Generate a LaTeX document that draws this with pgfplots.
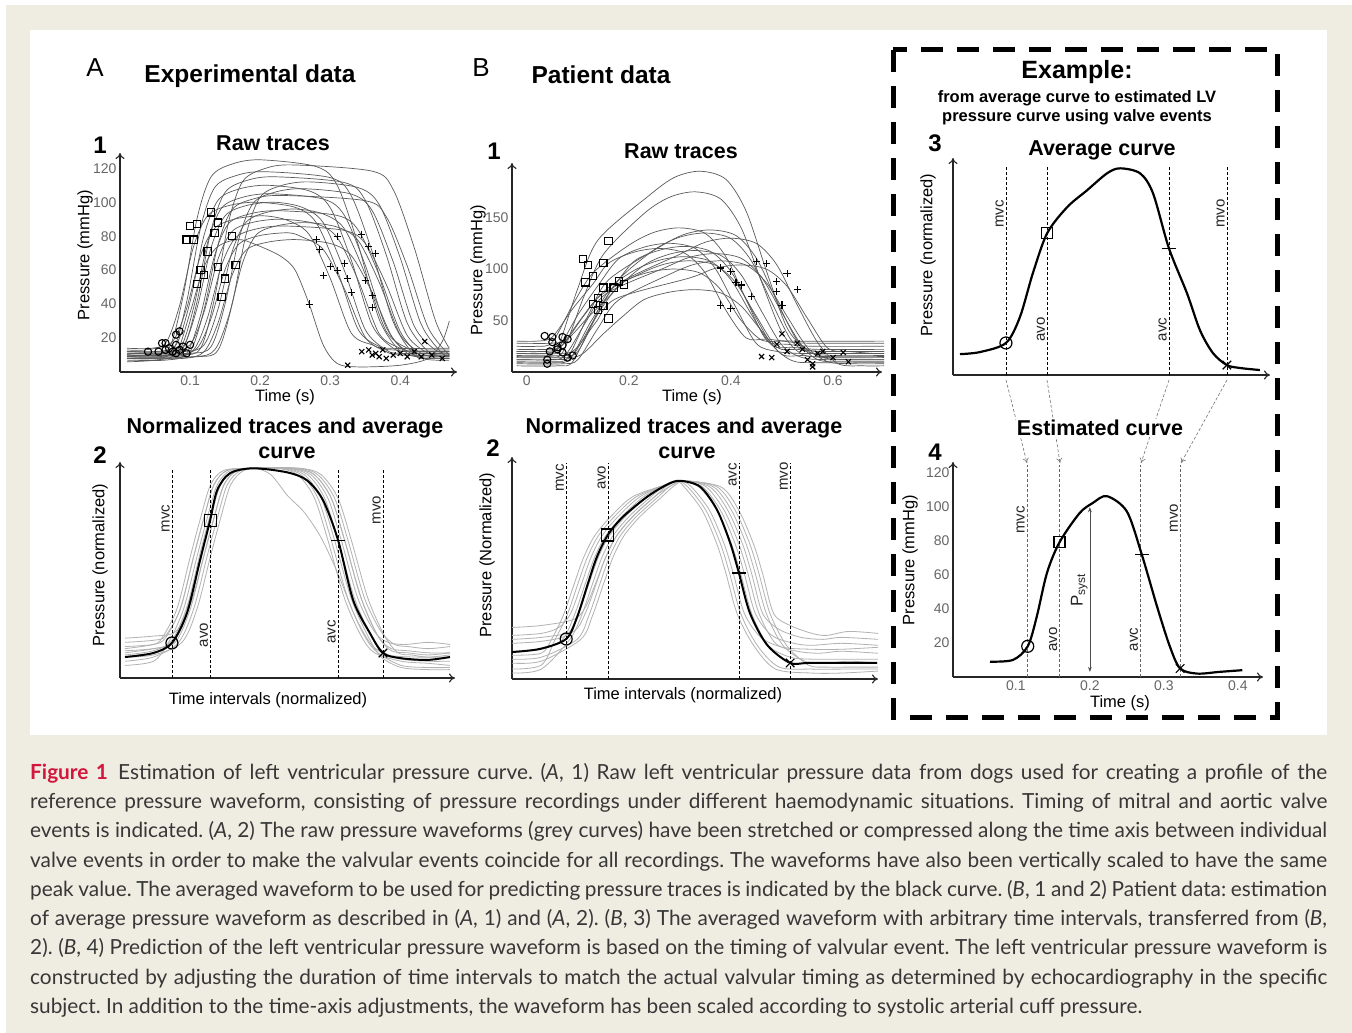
\documentclass[border=0pt]{standalone}
\usepackage{pgfplots}
\pgfplotsset{compat=1.18}
\usetikzlibrary{arrows.meta}
\usepackage{fontspec}
\setmainfont{Liberation Sans}
\newfontfamily\capfont{Lato}

\definecolor{bgbeige}{RGB}{239,236,226}
\definecolor{figred}{RGB}{210,22,60}
\definecolor{captxt}{RGB}{55,55,55}
\definecolor{rawgray}{RGB}{90,90,90}
\definecolor{normgray}{RGB}{178,178,178}

\tikzset{evlabel/.style={rotate=90, anchor=south, font=\fontsize{15}{15}\selectfont, text=black!85, inner sep=2pt}}

\pgfplotsset{
  panel/.style={
    scale only axis, anchor=south west, clip=false,
    axis lines=left,
    axis line style={line width=1.1pt, black!85, -{To[length=6pt,width=9pt]}},
    major tick length=0pt,
    tick label style={font=\fontsize{14}{14}\selectfont, text=black!60},
    /pgf/number format/assume math mode=true,
  },
  raw/.style={rawgray, line width=0.7pt, smooth, tension=0.5},
  norm/.style={normgray, line width=0.8pt, smooth, tension=0.5},
  avg/.style={black, line width=2pt, smooth, tension=0.5},
  event/.style={black, densely dashed, line width=0.6pt},
  rmark/.style={only marks, black, line width=1.1pt, mark size=3.6pt},
  bmark/.style={only marks, black, line width=1.2pt, mark size=6pt},
}

\begin{document}
\begin{tikzpicture}
% --- background ---
\begin{scope}[x=1pt,y=1pt]
  \fill[white] (0,0) rectangle (1352,-1033);
  \fill[bgbeige] (6,-5) rectangle (1352,-1033);
  \fill[white] (30,-30) rectangle (1327,-735);
\end{scope}

% --- A1 raw traces ---
\begin{axis}[panel, at={(120pt,-372pt)}, width=337pt, height=219pt,
  xmin=0, xmax=0.481, ymin=0, ymax=129,
  xtick={0.1,0.2,0.3,0.4}, ytick={20,40,60,80,100,120}]
\addplot[raw] coordinates {(0.01,10)(0.04,10)(0.07,14)(0.09,44.5)(0.11,90.5)(0.13,115)(0.16,122.5)(0.20,125)(0.28,121)(0.31,110)(0.34,75)(0.37,31)(0.40,12)(0.42,10)(0.47,10)};
\addplot[raw] coordinates {(0.01,8)(0.045,8)(0.075,12)(0.095,41)(0.115,85)(0.135,108.6)(0.165,115.6)(0.205,118)(0.30,114.5)(0.33,103.8)(0.36,70.8)(0.39,29.5)(0.42,10)(0.44,8)(0.47,8)};
\addplot[raw] coordinates {(0.01,12)(0.05,12)(0.08,16)(0.10,41.4)(0.12,80.6)(0.14,101.2)(0.17,107.8)(0.21,110)(0.27,106.7)(0.30,96.8)(0.33,66)(0.36,27.5)(0.39,14)(0.41,12)(0.47,12)};
\addplot[raw] coordinates {(0.01,9)(0.055,9)(0.085,13)(0.105,37.8)(0.125,76.2)(0.145,96.6)(0.175,102.9)(0.215,105)(0.29,101.9)(0.32,92.4)(0.35,63)(0.38,26.3)(0.41,11)(0.43,9)(0.47,9)};
\addplot[raw] coordinates {(0.01,11)(0.06,11)(0.09,15)(0.11,37.7)(0.13,73.3)(0.15,92)(0.18,98)(0.22,100)(0.26,97)(0.29,88)(0.32,60)(0.35,25)(0.38,13)(0.40,11)(0.47,11)};
\addplot[raw] coordinates {(0.01,7)(0.065,7)(0.095,11)(0.115,33.4)(0.135,68.6)(0.155,87.4)(0.185,93.1)(0.225,95)(0.31,92.2)(0.34,83.6)(0.37,57)(0.40,23.8)(0.43,9)(0.45,7)(0.47,7)};
\addplot[raw] coordinates {(0.01,12)(0.07,12)(0.10,16)(0.12,35.4)(0.14,66.6)(0.16,82.8)(0.19,88.2)(0.23,90)(0.28,87.3)(0.31,79.2)(0.34,54)(0.37,22.5)(0.40,14)(0.42,12)(0.47,12)};
\addplot[raw] coordinates {(0.01,9)(0.075,9)(0.105,13)(0.125,32.1)(0.145,62.9)(0.165,79.1)(0.195,84.3)(0.235,86)(0.32,83.4)(0.35,75.7)(0.38,51.6)(0.41,21.5)(0.44,11)(0.46,9)(0.47,9)};
\addplot[raw] coordinates {(0.01,10)(0.08,10)(0.11,14)(0.13,31.6)(0.15,60.4)(0.17,75.4)(0.20,80.4)(0.24,82)(0.26,79.5)(0.29,72.2)(0.32,49.2)(0.35,20.5)(0.38,12)(0.40,10)(0.47,10)};
\addplot[raw] coordinates {(0.01,8)(0.09,8)(0.12,12)(0.14,29)(0.16,57)(0.18,71.8)(0.21,76.4)(0.25,78)(0.30,75.7)(0.33,68.6)(0.36,46.8)(0.39,19.5)(0.42,10)(0.44,8)(0.47,8)};
\addplot[raw] coordinates {(0.01,11)(0.10,11)(0.13,15)(0.15,40.1)(0.17,78.9)(0.19,99.4)(0.22,105.8)(0.26,108)(0.33,104.8)(0.36,95)(0.39,64.8)(0.42,27)(0.45,13)(0.47,11)};
\addplot[raw] coordinates {(0.01,9)(0.11,9)(0.14,13)(0.16,39.9)(0.18,81.1)(0.20,103)(0.23,109.8)(0.27,112)(0.34,108.6)(0.37,98.6)(0.40,67.2)(0.43,28)(0.46,11)(0.47,10)};
\addplot[raw] coordinates {(0.01,6)(0.05,7)(0.08,11)(0.10,35)(0.12,62)(0.14,74)(0.17,78)(0.20,74)(0.23,68)(0.25,60)(0.27,40)(0.29,16)(0.31,5)(0.34,3)(0.40,4)(0.44,8)(0.46,18)(0.47,30)};
\addplot[raw] coordinates {(0.01,13)(0.035,13)(0.065,17)(0.085,39.1)(0.105,73.9)(0.125,92)(0.155,98)(0.195,100)(0.25,97)(0.28,88)(0.31,60)(0.34,25)(0.37,15)(0.39,13)(0.47,13)};
\addplot[raw] coordinates {(0.01,10)(0.085,10)(0.115,14)(0.135,43.6)(0.155,88.4)(0.175,112.2)(0.205,119.6)(0.245,122)(0.36,118.3)(0.39,107.4)(0.42,73.2)(0.45,30.5)(0.47,14)};
\addplot[raw] coordinates {(0.01,14)(0.045,14)(0.075,18)(0.095,37.4)(0.115,68.6)(0.135,84.6)(0.165,90.2)(0.205,92)(0.24,89.2)(0.27,81)(0.30,55.2)(0.33,23)(0.36,16)(0.38,14)(0.47,14)};
\addplot[raw] coordinates {(0.01,10)(0.06,10)(0.09,14)(0.11,41.5)(0.13,83.5)(0.15,105.8)(0.18,112.7)(0.22,115)(0.32,111.6)(0.35,101.2)(0.38,69)(0.41,28.8)(0.44,12)(0.46,10)(0.47,10)};
\addplot[raw] coordinates {(0.01,8)(0.07,8)(0.10,12)(0.12,36.8)(0.14,75.2)(0.16,95.7)(0.19,101.9)(0.23,104)(0.35,100.9)(0.38,91.5)(0.41,62.4)(0.44,26)(0.47,10)};
\addplot[raw] coordinates {(0.01,12)(0.09,12)(0.12,16)(0.14,37.2)(0.16,70.8)(0.18,88.3)(0.21,94.1)(0.25,96)(0.29,93.1)(0.32,84.5)(0.35,57.6)(0.38,24)(0.41,14)(0.43,12)(0.47,12)};
\addplot[raw] coordinates {(0.01,9)(0.105,9)(0.135,13)(0.155,32.7)(0.175,64.3)(0.195,81)(0.225,86.2)(0.265,88)(0.31,85.4)(0.34,77.4)(0.37,52.8)(0.40,22)(0.43,11)(0.45,9)(0.47,9)};
\addplot[rmark, mark=o] coordinates {(0.07,14)(0.075,12)(0.08,16)(0.085,13)(0.09,15)(0.095,11)(0.10,16)(0.065,13)(0.06,17)(0.055,12)(0.08,22)(0.08,11)(0.065,17)(0.04,12)(0.085,24)};
\addplot[rmark, mark=square] coordinates {(0.10,86)(0.105,78)(0.11,87)(0.115,60)(0.12,57)(0.125,71)(0.13,94)(0.135,82)(0.14,88)(0.145,44)(0.15,55)(0.16,80)(0.165,63)(0.11,52)(0.095,78)(0.14,62)};
\addplot[rmark, mark=+] coordinates {(0.28,78)(0.285,72)(0.29,57)(0.30,62)(0.31,60)(0.31,80)(0.32,64)(0.325,55)(0.33,47)(0.345,81)(0.35,54)(0.355,74)(0.36,45)(0.365,70)(0.36,38)(0.27,40)};
\addplot[rmark, mark=x] coordinates {(0.345,12)(0.36,10)(0.355,13)(0.37,9)(0.375,13)(0.38,8)(0.39,10)(0.40,11)(0.41,9)(0.42,12)(0.43,9)(0.435,18)(0.445,10)(0.46,8)(0.325,4)(0.365,11)};
\end{axis}

% --- B1 raw traces ---
\begin{axis}[panel, at={(512pt,-372pt)}, width=370pt, height=209pt,
  xmin=-0.029, xmax=0.696, ymin=0, ymax=203,
  xtick={0,0.2,0.4,0.6}, ytick={50,100,150}]
\addplot[raw] coordinates {(-0.02,20)(0.03,20)(0.06,24)(0.10,81.3)(0.14,128.5)(0.24,171.6)(0.29,189.2)(0.34,195)(0.39,187.2)(0.43,156)(0.47,97.5)(0.51,42.9)(0.55,22)(0.60,20)(0.70,20)};
\addplot[raw] coordinates {(-0.02,15)(0.04,15)(0.07,19)(0.11,71)(0.15,114.2)(0.23,154)(0.28,169.8)(0.33,175)(0.38,168)(0.42,140)(0.46,87.5)(0.50,38.5)(0.54,17)(0.59,15)(0.70,15)};
\addplot[raw] coordinates {(-0.02,25)(0.02,25)(0.05,29)(0.09,65.3)(0.13,96.3)(0.20,123.2)(0.25,135.8)(0.30,140)(0.35,134.4)(0.39,112)(0.43,70)(0.47,30.8)(0.51,27)(0.56,25)(0.70,25)};
\addplot[raw] coordinates {(-0.02,10)(0.05,10)(0.08,14)(0.12,54.8)(0.16,89.4)(0.26,121.4)(0.31,133.9)(0.36,138)(0.41,132.5)(0.45,110.4)(0.49,69)(0.53,30.4)(0.57,12)(0.62,10)(0.70,10)};
\addplot[raw] coordinates {(-0.02,18)(0.03,18)(0.06,22)(0.10,55.5)(0.14,84.3)(0.18,110)(0.23,121.3)(0.28,125)(0.33,120)(0.37,100)(0.41,62.5)(0.45,27.5)(0.49,20)(0.54,18)(0.70,18)};
\addplot[raw] coordinates {(-0.02,12)(0.06,12)(0.09,16)(0.13,49.1)(0.17,77.7)(0.23,103.8)(0.28,114.5)(0.33,118)(0.38,113.3)(0.42,94.4)(0.46,59)(0.50,26)(0.54,14)(0.59,12)(0.70,12)};
\addplot[raw] coordinates {(-0.02,22)(0.04,22)(0.07,26)(0.11,53.5)(0.15,77.8)(0.21,98.6)(0.26,108.6)(0.31,112)(0.36,107.5)(0.40,89.6)(0.44,56)(0.48,26)(0.52,24)(0.57,22)(0.70,22)};
\addplot[raw] coordinates {(-0.02,8)(0.07,8)(0.10,12)(0.14,43)(0.18,70)(0.28,95)(0.33,104.8)(0.38,108)(0.43,103.7)(0.47,86.4)(0.51,54)(0.55,23.8)(0.59,10)(0.64,8)(0.70,8)};
\addplot[raw] coordinates {(-0.02,28)(0.05,28)(0.08,32)(0.12,53.2)(0.16,72.6)(0.19,88)(0.24,97)(0.29,100)(0.34,96)(0.38,80)(0.42,50)(0.46,31)(0.50,30)(0.55,28)(0.70,28)};
\addplot[raw] coordinates {(-0.02,14)(0.08,14)(0.11,18)(0.15,37.1)(0.19,54.9)(0.23,70.4)(0.28,77.6)(0.33,80)(0.38,76.8)(0.42,64)(0.46,40)(0.50,17)(0.54,16)(0.59,14)(0.70,14)};
\addplot[raw] coordinates {(-0.02,6)(0.06,6)(0.09,10)(0.13,49.4)(0.17,82.9)(0.30,114.4)(0.35,126.1)(0.40,130)(0.45,124.8)(0.49,104)(0.53,65)(0.57,28.6)(0.61,8)(0.66,6)(0.70,6)};
\addplot[raw] coordinates {(-0.02,30)(0.02,30)(0.05,34)(0.09,61.5)(0.13,85.8)(0.16,105.6)(0.21,116.4)(0.26,120)(0.31,115.2)(0.35,96)(0.39,60)(0.43,33)(0.47,32)(0.52,30)(0.70,30)};
\addplot[raw] coordinates {(-0.02,16)(0.07,16)(0.10,20)(0.14,57.7)(0.18,89.8)(0.25,118.8)(0.30,131)(0.35,135)(0.40,129.6)(0.44,108)(0.48,67.5)(0.52,29.7)(0.56,18)(0.61,16)(0.70,16)};
\addplot[raw] coordinates {(-0.02,20)(0.035,20)(0.065,24)(0.105,50.8)(0.145,74.6)(0.22,95)(0.27,104.8)(0.32,108)(0.37,103.7)(0.41,86.4)(0.45,54)(0.49,24)(0.53,22)(0.58,20)(0.70,20)};
\addplot[raw] coordinates {(-0.02,12)(0.045,12)(0.075,16)(0.115,48)(0.155,75.9)(0.27,101.2)(0.32,111.6)(0.37,115)(0.42,110.4)(0.46,92)(0.50,57.5)(0.54,25.3)(0.58,14)(0.63,12)(0.70,12)};
\addplot[raw] coordinates {(-0.02,9)(0.055,9)(0.085,13)(0.125,48.6)(0.165,79.1)(0.21,107.4)(0.26,118.3)(0.31,122)(0.36,117.1)(0.40,97.6)(0.44,61)(0.48,26.8)(0.52,11)(0.57,9)(0.70,9)};
\addplot[raw] coordinates {(-0.02,18)(0.065,18)(0.095,22)(0.135,48.1)(0.175,71.3)(0.32,91.5)(0.37,100.9)(0.42,104)(0.47,99.8)(0.51,83.2)(0.55,52)(0.59,23)(0.63,20)(0.68,18)(0.70,18)};
\addplot[rmark, mark=o] coordinates {(0.06,24)(0.07,19)(0.05,29)(0.08,14)(0.06,22)(0.09,16)(0.07,26)(0.04,12)(0.08,32)(0.035,35)(0.04,8)(0.05,34)(0.045,20)(0.07,34)};
\addplot[rmark, mark=square] coordinates {(0.11,110)(0.13,93)(0.115,87)(0.14,72)(0.12,104)(0.15,64)(0.13,66)(0.16,52)(0.14,60)(0.17,82)(0.15,106)(0.16,127)(0.18,88)(0.19,85)(0.15,82)};
\addplot[rmark, mark=+] coordinates {(0.38,101)(0.40,98)(0.41,87)(0.42,84)(0.38,65)(0.45,107)(0.47,105)(0.49,88)(0.49,78)(0.51,96)(0.53,80)(0.40,62)(0.44,73)(0.42,85)(0.50,65)};
\addplot[rmark, mark=x] coordinates {(0.46,15)(0.48,14)(0.49,27)(0.50,37)(0.51,20)(0.53,28)(0.54,22)(0.55,12)(0.56,8)(0.57,18)(0.58,20)(0.60,14)(0.62,19)(0.63,10)(0.56,5)};
\end{axis}

% --- A2 normalized ---
\begin{axis}[panel, at={(120pt,-678pt)}, width=335pt, height=216pt,
  xmin=0, xmax=1, ymin=0, ymax=1.03, xtick=\empty, ytick=\empty]
\addplot[norm] coordinates {(0.015,0.12)(0.10,0.14)(0.155,0.17)(0.20,0.33)(0.24,0.58)(0.27,0.76)(0.30,0.92)(0.34,0.99)(0.40,1.0)(0.50,1.0)(0.56,0.97)(0.61,0.86)(0.65,0.66)(0.70,0.38)(0.75,0.2)(0.79,0.12)(0.84,0.09)(0.92,0.08)(0.985,0.08)};
\addplot[norm] coordinates {(0.015,0.17)(0.10,0.18)(0.135,0.2)(0.18,0.33)(0.22,0.58)(0.25,0.76)(0.28,0.92)(0.32,0.99)(0.40,1.0)(0.52,1.0)(0.58,0.97)(0.63,0.86)(0.67,0.66)(0.72,0.38)(0.77,0.2)(0.81,0.14)(0.86,0.13)(0.92,0.12)(0.985,0.12)};
\addplot[norm] coordinates {(0.015,0.08)(0.10,0.10)(0.175,0.17)(0.22,0.33)(0.26,0.58)(0.29,0.76)(0.32,0.92)(0.36,0.99)(0.42,1.0)(0.48,1.0)(0.54,0.97)(0.59,0.86)(0.63,0.66)(0.68,0.38)(0.73,0.2)(0.77,0.12)(0.84,0.06)(0.92,0.05)(0.985,0.05)};
\addplot[norm] coordinates {(0.015,0.14)(0.10,0.16)(0.125,0.19)(0.17,0.33)(0.21,0.58)(0.24,0.76)(0.27,0.92)(0.31,0.99)(0.40,1.0)(0.53,1.0)(0.59,0.97)(0.64,0.86)(0.68,0.66)(0.73,0.38)(0.78,0.22)(0.82,0.16)(0.86,0.15)(0.92,0.14)(0.985,0.15)};
\addplot[norm] coordinates {(0.015,0.19)(0.10,0.2)(0.165,0.22)(0.21,0.35)(0.25,0.58)(0.28,0.76)(0.31,0.92)(0.35,0.99)(0.42,1.0)(0.54,1.0)(0.60,0.97)(0.65,0.86)(0.69,0.66)(0.74,0.38)(0.79,0.2)(0.83,0.12)(0.87,0.11)(0.92,0.10)(0.985,0.11)};
\addplot[norm] coordinates {(0.015,0.06)(0.10,0.08)(0.145,0.17)(0.19,0.33)(0.23,0.58)(0.26,0.76)(0.29,0.92)(0.33,0.99)(0.40,1.0)(0.47,1.0)(0.53,0.97)(0.58,0.86)(0.62,0.66)(0.67,0.38)(0.72,0.2)(0.76,0.12)(0.84,0.08)(0.92,0.07)(0.985,0.06)};
\addplot[norm] coordinates {(0.015,0.10)(0.10,0.11)(0.185,0.17)(0.23,0.33)(0.27,0.58)(0.30,0.76)(0.33,0.92)(0.37,0.99)(0.43,1.0)(0.51,1.0)(0.57,0.97)(0.62,0.86)(0.66,0.66)(0.71,0.38)(0.76,0.22)(0.80,0.17)(0.85,0.16)(0.92,0.17)(0.985,0.16)};
\addplot[norm] coordinates {(0.015,0.15)(0.10,0.16)(0.135,0.19)(0.18,0.33)(0.22,0.58)(0.25,0.76)(0.28,0.92)(0.32,0.99)(0.40,1.0)(0.49,1.0)(0.55,0.97)(0.60,0.86)(0.64,0.66)(0.69,0.38)(0.74,0.2)(0.78,0.1)(0.84,0.05)(0.92,0.04)(0.985,0.04)};
\addplot[norm] coordinates {(0.015,0.13)(0.10,0.14)(0.165,0.17)(0.21,0.33)(0.25,0.58)(0.28,0.76)(0.31,0.92)(0.35,0.99)(0.41,1.0)(0.52,1.0)(0.58,0.97)(0.63,0.86)(0.67,0.66)(0.72,0.38)(0.77,0.2)(0.81,0.13)(0.86,0.12)(0.92,0.11)(0.985,0.12)};
\addplot[norm] coordinates {(0.015,0.11)(0.10,0.13)(0.155,0.18)(0.20,0.34)(0.24,0.6)(0.27,0.78)(0.30,0.93)(0.34,0.99)(0.40,1.0)(0.45,0.97)(0.50,0.87)(0.55,0.79)(0.60,0.67)(0.65,0.5)(0.70,0.3)(0.75,0.16)(0.80,0.11)(0.88,0.1)(0.985,0.1)};
\addplot[event] coordinates {(0.155,0) (0.155,1.0)};
\addplot[event] coordinates {(0.269,0) (0.269,1.0)};
\addplot[event] coordinates {(0.651,0) (0.651,1.0)};
\addplot[event] coordinates {(0.785,0) (0.785,1.0)};
\addplot[avg] coordinates {(0.015,0.10)(0.099,0.119)(0.155,0.167)(0.2,0.31)(0.239,0.562)(0.269,0.752)(0.29,0.895)(0.328,0.976)(0.397,1.0)(0.498,0.981)(0.558,0.943)(0.606,0.848)(0.651,0.657)(0.696,0.371)(0.746,0.214)(0.785,0.119)(0.836,0.095)(0.916,0.086)(0.985,0.10)};
\addplot[bmark, mark=o] coordinates {(0.155,0.167)};
\addplot[bmark, mark=square] coordinates {(0.269,0.752)};
\addplot[bmark, mark=-, mark size=7pt] coordinates {(0.651,0.657)};
\addplot[bmark, mark=x] coordinates {(0.785,0.119)};
\node[evlabel] at (axis cs:0.155,0.76) {mvc};
\node[evlabel] at (axis cs:0.269,0.205) {avo};
\node[evlabel] at (axis cs:0.651,0.22) {avc};
\node[evlabel] at (axis cs:0.785,0.80) {mvo};
\end{axis}

% --- B2 normalized ---
\begin{axis}[panel, at={(512pt,-679pt)}, width=366pt, height=222pt,
  xmin=0, xmax=1, ymin=0, ymax=1.12, xtick=\empty, ytick=\empty]
\addplot[norm] coordinates {(0,0.26)(0.08,0.27)(0.168,0.30)(0.20,0.36)(0.23,0.49)(0.255,0.61)(0.285,0.72)(0.33,0.82)(0.39,0.92)(0.42,0.97)(0.46,1.0)(0.54,0.97)(0.59,0.85)(0.63,0.68)(0.655,0.53)(0.685,0.33)(0.73,0.25)(0.79,0.21)(0.85,0.20)(0.9,0.21)(1.0,0.20)};
\addplot[norm] coordinates {(0,0.22)(0.08,0.23)(0.128,0.26)(0.16,0.33)(0.19,0.48)(0.215,0.61)(0.245,0.72)(0.29,0.82)(0.35,0.92)(0.42,0.98)(0.46,1.0)(0.49,0.97)(0.54,0.85)(0.58,0.68)(0.605,0.53)(0.635,0.33)(0.68,0.21)(0.74,0.16)(0.82,0.15)(0.9,0.15)(1.0,0.16)};
\addplot[norm] coordinates {(0,0.10)(0.08,0.11)(0.178,0.2)(0.21,0.32)(0.24,0.48)(0.265,0.61)(0.295,0.72)(0.34,0.82)(0.40,0.92)(0.43,0.97)(0.47,1.0)(0.56,0.97)(0.61,0.85)(0.65,0.68)(0.675,0.53)(0.705,0.33)(0.75,0.17)(0.81,0.07)(0.86,0.06)(0.92,0.06)(1.0,0.06)};
\addplot[norm] coordinates {(0,0.05)(0.08,0.07)(0.118,0.2)(0.15,0.32)(0.18,0.48)(0.205,0.61)(0.235,0.72)(0.28,0.82)(0.34,0.92)(0.42,0.98)(0.46,1.0)(0.51,0.97)(0.56,0.85)(0.60,0.68)(0.625,0.53)(0.655,0.33)(0.70,0.17)(0.76,0.11)(0.82,0.10)(0.9,0.10)(1.0,0.10)};
\addplot[norm] coordinates {(0,0.18)(0.08,0.19)(0.148,0.22)(0.18,0.32)(0.21,0.48)(0.235,0.61)(0.265,0.72)(0.31,0.82)(0.37,0.92)(0.42,0.98)(0.45,1.0)(0.47,0.97)(0.52,0.85)(0.56,0.68)(0.585,0.53)(0.615,0.33)(0.66,0.17)(0.72,0.05)(0.82,0.03)(0.9,0.03)(1.0,0.04)};
\addplot[norm] coordinates {(0,0.08)(0.08,0.09)(0.188,0.2)(0.22,0.32)(0.25,0.48)(0.275,0.61)(0.305,0.72)(0.35,0.82)(0.41,0.92)(0.44,0.97)(0.47,1.0)(0.53,0.97)(0.58,0.85)(0.62,0.68)(0.645,0.53)(0.675,0.33)(0.72,0.18)(0.78,0.14)(0.84,0.13)(0.9,0.14)(1.0,0.13)};
\addplot[norm] coordinates {(0,0.14)(0.08,0.15)(0.138,0.2)(0.17,0.32)(0.20,0.48)(0.225,0.61)(0.255,0.72)(0.30,0.82)(0.36,0.92)(0.42,0.98)(0.46,1.0)(0.57,0.97)(0.62,0.85)(0.66,0.68)(0.685,0.53)(0.715,0.33)(0.76,0.27)(0.82,0.23)(0.86,0.22)(0.92,0.24)(1.0,0.23)};
\addplot[norm] coordinates {(0,0.03)(0.08,0.05)(0.158,0.2)(0.19,0.32)(0.22,0.48)(0.245,0.61)(0.275,0.72)(0.32,0.82)(0.38,0.92)(0.42,0.98)(0.45,1.0)(0.48,0.97)(0.53,0.85)(0.57,0.68)(0.595,0.53)(0.625,0.33)(0.67,0.17)(0.73,0.06)(0.82,0.05)(0.9,0.05)(1.0,0.05)};
\addplot[norm] coordinates {(0,0.12)(0.08,0.13)(0.108,0.2)(0.14,0.32)(0.17,0.48)(0.195,0.61)(0.225,0.72)(0.27,0.82)(0.33,0.92)(0.42,0.98)(0.46,1.0)(0.52,0.97)(0.57,0.85)(0.61,0.68)(0.635,0.53)(0.665,0.33)(0.71,0.22)(0.77,0.18)(0.82,0.17)(0.9,0.18)(1.0,0.17)};
\addplot[norm] coordinates {(0,0.20)(0.08,0.21)(0.168,0.24)(0.20,0.33)(0.23,0.48)(0.255,0.61)(0.285,0.72)(0.33,0.82)(0.39,0.92)(0.43,0.97)(0.47,1.0)(0.55,0.97)(0.60,0.85)(0.64,0.68)(0.665,0.53)(0.695,0.33)(0.74,0.17)(0.80,0.09)(0.86,0.08)(0.92,0.09)(1.0,0.08)};
\addplot[event] coordinates {(0.148,0) (0.148,1.09)};
\addplot[event] coordinates {(0.262,0) (0.262,1.09)};
\addplot[event] coordinates {(0.620,0) (0.620,1.09)};
\addplot[event] coordinates {(0.760,0) (0.760,1.09)};
\addplot[avg] coordinates {(0,0.136)(0.077,0.152)(0.148,0.202)(0.178,0.313)(0.208,0.485)(0.232,0.616)(0.262,0.727)(0.303,0.818)(0.369,0.919)(0.423,0.98)(0.459,1.0)(0.514,0.970)(0.560,0.854)(0.596,0.687)(0.620,0.535)(0.650,0.333)(0.697,0.172)(0.760,0.081)(0.814,0.081)(0.997,0.081)};
\addplot[bmark, mark=o] coordinates {(0.148,0.202)};
\addplot[bmark, mark=square] coordinates {(0.262,0.727)};
\addplot[bmark, mark=-, mark size=7pt] coordinates {(0.620,0.535)};
\addplot[bmark, mark=x] coordinates {(0.760,0.081)};
\node[evlabel] at (axis cs:0.148,1.015) {mvc};
\node[evlabel] at (axis cs:0.262,1.015) {avo};
\node[evlabel] at (axis cs:0.620,1.03) {avc};
\node[evlabel] at (axis cs:0.760,1.02) {mvo};
\end{axis}

% --- 3 average curve ---
\begin{axis}[panel, at={(953pt,-375pt)}, width=317pt, height=217pt,
  xmin=0, xmax=1, ymin=0, ymax=1.05, xtick=\empty, ytick=\empty]
\addplot[event] coordinates {(0.167,0) (0.167,1.01)};
\addplot[event] coordinates {(0.297,0) (0.297,1.01)};
\addplot[event] coordinates {(0.681,0) (0.681,1.01)};
\addplot[event] coordinates {(0.864,0) (0.864,1.01)};
\addplot[avg, line width=2.2pt] coordinates {(0.022,0.101)(0.085,0.111)(0.167,0.155)(0.211,0.280)(0.252,0.493)(0.297,0.686)(0.360,0.812)(0.423,0.894)(0.486,0.976)(0.527,1.0)(0.590,0.976)(0.631,0.879)(0.681,0.614)(0.738,0.396)(0.779,0.217)(0.820,0.106)(0.864,0.048)(0.905,0.034)(0.968,0.024)};
\addplot[bmark, mark=o] coordinates {(0.167,0.155)};
\addplot[bmark, mark=square, mark size=5.5pt] coordinates {(0.297,0.686)};
\addplot[bmark, mark=-, mark size=7pt] coordinates {(0.681,0.614)};
\addplot[bmark, mark=x] coordinates {(0.864,0.048)};
\node[evlabel] at (axis cs:0.167,0.78) {mvc};
\node[evlabel] at (axis cs:0.297,0.22) {avo};
\node[evlabel] at (axis cs:0.681,0.22) {avc};
\node[evlabel] at (axis cs:0.864,0.78) {mvo};
\end{axis}

% --- 4 estimated curve ---
\begin{axis}[panel, at={(953pt,-677pt)}, width=310pt, height=215pt,
  xmin=0.015, xmax=0.434, ymin=0, ymax=126,
  xtick={0.1,0.2,0.3,0.4}, ytick={20,40,60,80,100,120}]
\addplot[event, black!60] coordinates {(0.115,0) (0.115,124)};
\addplot[event, black!60] coordinates {(0.159,0) (0.159,124)};
\addplot[event, black!60] coordinates {(0.268,0) (0.268,124)};
\addplot[event, black!60] coordinates {(0.322,0) (0.322,124)};
\addplot[black!70, line width=0.7pt, {Stealth[length=5pt]}-{Stealth[length=5pt]}] coordinates {(0.2,3) (0.2,99.5)};
\addplot[avg, line width=2.2pt] coordinates {(0.065,9)(0.096,10)(0.116,18)(0.128,35)(0.142,61)(0.159,79)(0.186,96)(0.204,102)(0.223,106)(0.250,97)(0.270,72)(0.291,41)(0.308,18)(0.322,5)(0.345,2)(0.375,3)(0.406,4)};
\addplot[bmark, mark=o] coordinates {(0.116,18)};
\addplot[bmark, mark=square, mark size=5.5pt] coordinates {(0.159,79)};
\addplot[bmark, mark=-, mark size=7pt] coordinates {(0.270,72)};
\addplot[bmark, mark=x] coordinates {(0.322,5)};
\node[evlabel] at (axis cs:0.115,92) {mvc};
\node[evlabel] at (axis cs:0.159,22) {avo};
\node[evlabel] at (axis cs:0.268,22) {avc};
\node[evlabel] at (axis cs:0.322,93) {mvo};
\node[evlabel, font=\fontsize{17}{17}\selectfont] at (axis cs:0.2,51) {P\textsubscript{syst}};
\end{axis}

% --- annotations ---
\begin{scope}[x=1pt,y=1pt]
  \draw[line width=5pt, dash pattern=on 22pt off 14pt] (893,-50) rectangle (1277,-717);
  \foreach \a/\b in {1006/1027, 1047/1060, 1169/1141, 1227/1181}
    \draw[black!55, densely dashed, line width=0.6pt, -{To[length=5pt,width=6pt]}] (\a,-380) -- (\b,-463);
  \node[font=\fontsize{26}{26}\selectfont] at (95,-68) {A};
  \node[font=\bfseries\fontsize{24.5}{24.5}\selectfont] at (250,-76) {Experimental data};
  \node[font=\fontsize{26}{26}\selectfont] at (481,-68) {B};
  \node[font=\bfseries\fontsize{24.5}{24.5}\selectfont] at (601,-75) {Patient data};
  \node[font=\bfseries\fontsize{24}{24}\selectfont] at (100,-145) {1};
  \node[font=\bfseries\fontsize{21.5}{21.5}\selectfont] at (273,-143) {Raw traces};
  \node[font=\bfseries\fontsize{24}{24}\selectfont] at (494,-151) {1};
  \node[font=\bfseries\fontsize{21.5}{21.5}\selectfont] at (681,-151) {Raw traces};
  \node[rotate=90, font=\fontsize{16.5}{16.5}\selectfont] at (85,-255) {Pressure (mmHg)};
  \node[font=\fontsize{16.5}{16.5}\selectfont] at (285,-397) {Time (s)};
  \node[rotate=90, font=\fontsize{16.5}{16.5}\selectfont] at (478,-270) {Pressure (mmHg)};
  \node[font=\fontsize{16.5}{16.5}\selectfont] at (692,-397) {Time (s)};
  \node[font=\bfseries\fontsize{21.5}{21.5}\selectfont] at (285,-428) {Normalized traces and average};
  \node[font=\bfseries\fontsize{21.5}{21.5}\selectfont] at (287,-453) {curve};
  \node[font=\bfseries\fontsize{24}{24}\selectfont] at (100,-455) {2};
  \node[font=\fontsize{16.5}{16.5}\selectfont] at (268,-700) {Time intervals (normalized)};
  \node[rotate=90, font=\fontsize{16.5}{16.5}\selectfont] at (100,-565) {Pressure (normalized)};
  \node[font=\bfseries\fontsize{21.5}{21.5}\selectfont] at (684,-428) {Normalized traces and average};
  \node[font=\bfseries\fontsize{21.5}{21.5}\selectfont] at (687,-453) {curve};
  \node[font=\bfseries\fontsize{24}{24}\selectfont] at (493,-448) {2};
  \node[font=\fontsize{16.5}{16.5}\selectfont] at (683,-695) {Time intervals (normalized)};
  \node[rotate=90, font=\fontsize{16.5}{16.5}\selectfont] at (487,-555) {Pressure (Normalized)};
  \node[font=\bfseries\fontsize{25}{25}\selectfont] at (1077,-72) {Example:};
  \node[font=\bfseries\fontsize{16.5}{16.5}\selectfont] at (1077,-98) {from average curve to estimated LV};
  \node[font=\bfseries\fontsize{16.5}{16.5}\selectfont] at (1077,-117) {pressure curve using valve events};
  \node[font=\bfseries\fontsize{24}{24}\selectfont] at (935,-143) {3};
  \node[font=\bfseries\fontsize{21.5}{21.5}\selectfont] at (1102,-150) {Average curve};
  \node[rotate=90, font=\fontsize{16.5}{16.5}\selectfont] at (928,-255) {Pressure (normalized)};
  \node[font=\bfseries\fontsize{24}{24}\selectfont] at (935,-452) {4};
  \node[fill=white, inner sep=1pt, font=\bfseries\fontsize{21.5}{21.5}\selectfont] at (1100,-428) {Estimated curve};
  \node[rotate=90, font=\fontsize{16.5}{16.5}\selectfont] at (910,-560) {Pressure (mmHg)};
  \node[font=\fontsize{16.5}{16.5}\selectfont] at (1120,-703) {Time (s)};
  % caption
  \node[anchor=north west, inner sep=0pt, text width=1297pt, align=justify,
        font=\capfont\fontsize{20.8}{29.25}\selectfont, text=captxt] at (30,-763) {%
    \hyphenpenalty=10000\exhyphenpenalty=10000\frenchspacing
    {\color{figred}\bfseries Figure 1}\hspace{0.5em}Estimation of left ventricular pressure curve. (\textit{A}, 1) Raw left ventricular pressure data from dogs used for creating a profile of the\linebreak
    reference pressure waveform, consisting of pressure recordings under different haemodynamic situations. Timing of mitral and aortic valve\linebreak
    events is indicated. (\textit{A}, 2) The raw pressure waveforms (grey curves) have been stretched or compressed along the time axis between individual\linebreak
    valve events in order to make the valvular events coincide for all recordings. The waveforms have also been vertically scaled to have the same\linebreak
    peak value. The averaged waveform to be used for predicting pressure traces is indicated by the black curve. (\textit{B}, 1 and 2) Patient data: estimation\linebreak
    of average pressure waveform as described in (\textit{A}, 1) and (\textit{A}, 2). (\textit{B}, 3) The averaged waveform with arbitrary time intervals, transferred from (\textit{B},\linebreak
    2). (\textit{B}, 4) Prediction of the left ventricular pressure waveform is based on the timing of valvular event. The left ventricular pressure waveform is\linebreak
    constructed by adjusting the duration of time intervals to match the actual valvular timing as determined by echocardiography in the specific\linebreak
    subject. In addition to the time-axis adjustments, the waveform has been scaled according to systolic arterial cuff pressure.};
\end{scope}
\end{tikzpicture}
\end{document}
